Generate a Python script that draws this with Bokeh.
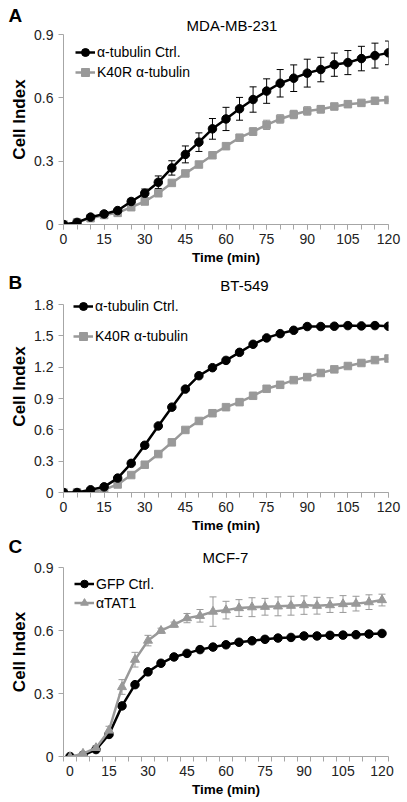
from bokeh.plotting import figure
from bokeh.models import (ColumnDataSource, FixedTicker, Whisker, TeeHead,
                          Legend, LegendItem, Label, Title)
from bokeh.layouts import column
from bokeh.embed import file_html
from bokeh.resources import INLINE

FONT = "Liberation Sans"
BLACK = "#000000"
GRAY = "#999999"
AXIS = "#a6a6a6"

# ---------------- data ----------------
times = [0, 5, 10, 15, 20, 25, 30, 35, 40, 45, 50, 55, 60, 65, 70, 75, 80,
         85, 90, 95, 100, 105, 110, 115, 120]
x_tick_labels = [0, 15, 30, 45, 60, 75, 90, 105, 120]

# Panel A: MDA-MB-231
a_title = "MDA-MB-231"
a_ctrl = [0.0, 0.01, 0.035, 0.05, 0.066, 0.109, 0.148, 0.2, 0.268, 0.332, 0.39,
          0.453, 0.5, 0.548, 0.592, 0.632, 0.669, 0.693, 0.717, 0.734, 0.757,
          0.767, 0.786, 0.8, 0.813]
a_ctrl_err = [0.0, 0.003, 0.006, 0.006, 0.008, 0.012, 0.02, 0.03, 0.034, 0.04,
              0.044, 0.049, 0.055, 0.054, 0.06, 0.058, 0.065, 0.063, 0.066,
              0.058, 0.055, 0.057, 0.058, 0.059, 0.056]
a_k40r = [0.0, 0.01, 0.03, 0.045, 0.055, 0.082, 0.109, 0.148, 0.197, 0.242,
          0.284, 0.328, 0.371, 0.411, 0.44, 0.472, 0.5, 0.521, 0.538, 0.546,
          0.559, 0.57, 0.576, 0.586, 0.59]
a_k40r_err = [0.0, 0.003, 0.005, 0.005, 0.006, 0.008, 0.01, 0.01, 0.012, 0.012,
              0.012, 0.012, 0.014, 0.016, 0.018, 0.022, 0.02, 0.02, 0.02, 0.018,
              0.015, 0.015, 0.012, 0.012, 0.01]

# Panel B: BT-549
b_title = "BT-549"
b_ctrl = [0.0, 0.0, 0.026, 0.054, 0.138, 0.279, 0.452, 0.637, 0.817, 0.99,
          1.118, 1.195, 1.265, 1.342, 1.419, 1.48, 1.521, 1.553, 1.589, 1.589,
          1.592, 1.598, 1.595, 1.598, 1.592]
b_k40r = [0.0, 0.0, 0.005, 0.026, 0.077, 0.167, 0.266, 0.368, 0.48, 0.599,
          0.685, 0.759, 0.817, 0.865, 0.926, 0.993, 1.031, 1.076, 1.105, 1.144,
          1.179, 1.211, 1.24, 1.268, 1.283]

# Panel C: MCF-7
c_title = "MCF-7"
c_gfp = [0.0, 0.005, 0.033, 0.105, 0.241, 0.342, 0.403, 0.444, 0.474, 0.491,
         0.509, 0.521, 0.532, 0.544, 0.551, 0.558, 0.564, 0.567, 0.574, 0.574,
         0.577, 0.578, 0.58, 0.583, 0.586]
c_gfp_err = [0.002, 0.004, 0.006, 0.008, 0.01, 0.01, 0.008, 0.008, 0.008, 0.008,
             0.008, 0.008, 0.008, 0.008, 0.008, 0.008, 0.008, 0.008, 0.008,
             0.008, 0.008, 0.008, 0.008, 0.008, 0.008]
c_tat1 = [-0.003, 0.014, 0.041, 0.124, 0.331, 0.461, 0.552, 0.599, 0.628,
          0.659, 0.67, 0.69, 0.697, 0.707, 0.711, 0.713, 0.715, 0.718, 0.721,
          0.718, 0.721, 0.726, 0.728, 0.735, 0.745]
c_tat1_err = [0.005, 0.008, 0.01, 0.02, 0.035, 0.035, 0.025, 0.012, 0.012,
              0.022, 0.03, 0.07, 0.042, 0.04, 0.045, 0.04, 0.045, 0.045, 0.044,
              0.04, 0.035, 0.04, 0.035, 0.035, 0.028]

y_ticks_a = [0, 0.3, 0.6, 0.9]
y_ticks_b = [0, 0.3, 0.6, 0.9, 1.2, 1.5, 1.8]
y_ticks_c = [0, 0.3, 0.6, 0.9]


def make_fig(frame_h, plot_h, top, bottom, x_range, y_max, y_ticks,
             category_axis):
    # frame extends above y_max so that the title sits inside it;
    # the axis line itself is bounded to [0, y_max]
    y_end = y_max * frame_h / plot_h
    p = figure(frame_width=325, frame_height=frame_h, x_range=x_range,
               y_range=(0, y_end), output_backend="svg", toolbar_location=None,
               min_border_left=63, min_border_right=19, min_border_top=top,
               min_border_bottom=bottom)
    p.grid.visible = False
    p.outline_line_color = None
    p.background_fill_color = "white"
    p.border_fill_color = "white"

    xa = p.xaxis[0]
    if category_axis:
        minor = [t - 2.5 for t in times] + [times[-1] + 2.5]
        xa.ticker = FixedTicker(ticks=x_tick_labels, minor_ticks=minor)
        xa.major_tick_line_color = None
    else:
        xa.ticker = FixedTicker(ticks=x_tick_labels, minor_ticks=times)
        xa.major_tick_line_color = AXIS
    xa.major_tick_out = 5
    xa.major_tick_in = 0
    xa.minor_tick_out = 5
    xa.minor_tick_in = 0
    xa.minor_tick_line_color = AXIS
    xa.axis_line_color = AXIS
    xa.major_label_text_font = FONT
    xa.major_label_text_font_size = "14px"
    xa.major_label_text_color = "#222222"
    xa.major_label_standoff = 4
    xa.axis_label = "Time (min)"
    xa.axis_label_text_font = FONT
    xa.axis_label_text_font_style = "bold"
    xa.axis_label_text_font_size = "13.5px"
    xa.axis_label_text_color = "#000000"
    xa.axis_label_standoff = 3

    ya = p.yaxis[0]
    ya.ticker = FixedTicker(ticks=y_ticks)
    ya.bounds = (0, y_max)
    ya.major_label_overrides = {0: "0"}
    ya.major_tick_out = 5
    ya.major_tick_in = 0
    ya.major_tick_line_color = AXIS
    ya.minor_tick_line_color = None
    ya.axis_line_color = AXIS
    ya.major_label_text_font = FONT
    ya.major_label_text_font_size = "14px"
    ya.major_label_text_color = "#222222"
    ya.major_label_standoff = 5
    ya.axis_label = "Cell Index"
    ya.axis_label_text_font = FONT
    ya.axis_label_text_font_style = "bold"
    ya.axis_label_text_font_size = "17px"
    ya.axis_label_text_color = "#000000"
    ya.axis_label_standoff = 2
    return p


def add_series(p, vals, errs, color, marker, size):
    r_line = p.line(times, vals, line_color=color, line_width=2.5)
    if errs is not None:
        src = ColumnDataSource(dict(
            x=times,
            lo=[v - e for v, e in zip(vals, errs)],
            hi=[v + e for v, e in zip(vals, errs)]))
        w = Whisker(base="x", upper="hi", lower="lo", source=src,
                    dimension="height", line_color=color, line_width=1,
                    upper_head=TeeHead(size=7, line_color=color, line_width=1),
                    lower_head=TeeHead(size=7, line_color=color, line_width=1))
        p.add_layout(w)
    r_pts = p.scatter(times, vals, marker=marker, size=size,
                      fill_color=color, line_color=color)
    return [r_line, r_pts]


def add_legend(p, items, loc, row_h):
    leg = Legend(items=[LegendItem(label=lab, renderers=rs) for lab, rs in items],
                 location=loc, orientation="vertical",
                 glyph_width=20, glyph_height=row_h, label_height=row_h,
                 label_standoff=2, spacing=0, padding=0, margin=0,
                 border_line_color=None, background_fill_alpha=0,
                 label_text_font=FONT, label_text_font_size="14px",
                 label_text_color="#000000")
    p.add_layout(leg, "center")


def add_texts(p, title, title_x, title_y, letter, letter_standoff):
    p.add_layout(Label(x=title_x, y=title_y, x_units="screen", y_units="screen",
                       text=title, text_align="center",
                       text_baseline="middle",
                       text_font=FONT, text_font_size="15px",
                       text_color="#000000"))
    p.add_layout(Title(text=letter, align="left", offset=-55,
                       vertical_align="bottom", standoff=letter_standoff,
                       text_font=FONT, text_font_size="19px",
                       text_font_style="bold", text_color="#000000"), "above")


# ---------------- Panel A ----------------
pa = make_fig(210, 190, 14, 46, (0, 120), 0.9, y_ticks_a, False)
ra_k = add_series(pa, a_k40r, a_k40r_err, GRAY, "square", 7.5)
ra_c = add_series(pa, a_ctrl, a_ctrl_err, BLACK, "circle", 8.5)
add_legend(pa, [("\u03b1-tubulin Ctrl.", ra_c), ("K40R \u03b1-tubulin", ra_k)],
           (12, 142), 20)
add_texts(pa, a_title, 168.5, 199, "A", -23)

# ---------------- Panel B ----------------
pb = make_fig(212, 188, 10, 42, (0, 120), 1.8, y_ticks_b, False)
rb_k = add_series(pb, b_k40r, None, GRAY, "square", 7.5)
rb_c = add_series(pb, b_ctrl, None, BLACK, "circle", 8.5)
add_legend(pb, [("\u03b1-tubulin Ctrl.", rb_c), ("K40R \u03b1-tubulin", rb_k)],
           (10, 141), 30)
add_texts(pb, b_title, 181, 207, "B", -24)

# ---------------- Panel C ----------------
pc = make_fig(209, 189, 12, 47, (-2.5, 122.5), 0.9, y_ticks_c, True)
rc_g = add_series(pc, c_gfp, c_gfp_err, BLACK, "circle", 8.5)
rc_t = add_series(pc, c_tat1, c_tat1_err, GRAY, "triangle", 9)
add_legend(pc, [("GFP Ctrl.", rc_g), ("\u03b1TAT1", rc_t)], (11, 144), 19)
add_texts(pc, c_title, 162, 199.3, "C", -19)

layout = column(pa, pb, pc, spacing=0)
open("out.html", "w").write(file_html(layout, INLINE))
